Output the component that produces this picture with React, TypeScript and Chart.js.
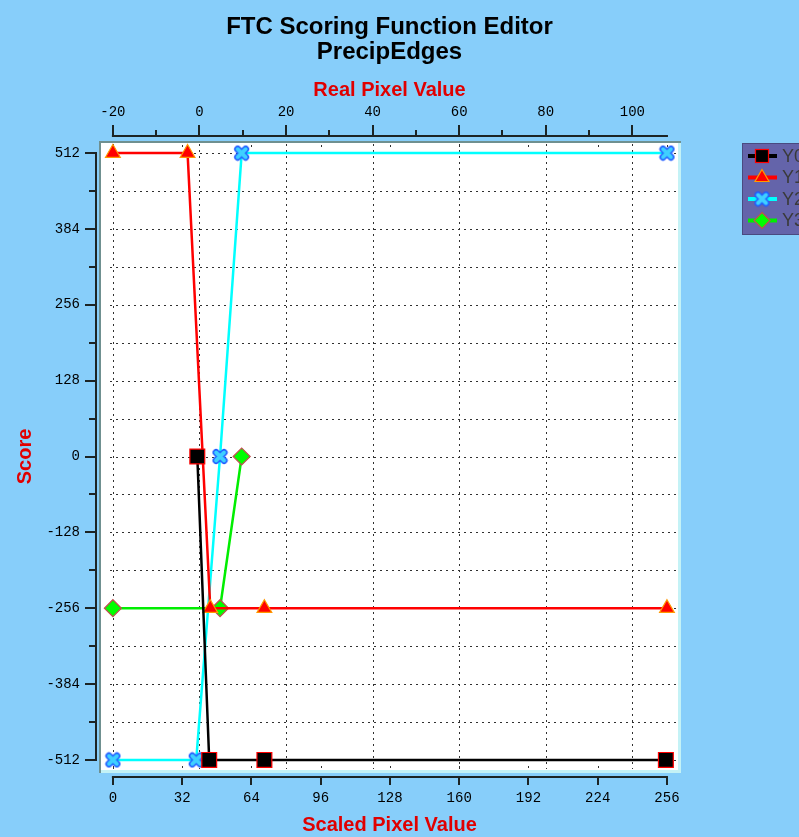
import React, { useEffect, useRef } from 'react';
import { Chart, registerables } from 'chart.js';

Chart.register(...registerables);

// ---------- data ----------
const TITLE_LINES = ['FTC Scoring Function Editor', 'PrecipEdges'];
const X_TITLE = 'Scaled Pixel Value';
const X2_TITLE = 'Real Pixel Value';
const Y_TITLE = 'Score';
const SERIES_NAMES = ['Y0', 'Y1', 'Y2', 'Y3'];

const Y0_X = [39, 44.5, 70, 255.5];
const Y0_Y = [0, -512, -512, -512];
const Y1_X = [0, 34.5, 45, 70, 256];
const Y1_Y = [512, 512, -256, -256, -256];
const Y2_X = [0, 38.5, 49.5, 59.5, 256];
const Y2_Y = [-512, -512, 0, 512, 512];
const Y3_X = [0, 49.5, 59.5];
const Y3_Y = [-256, -256, 0];

const X_TICKS = [0, 32, 64, 96, 128, 160, 192, 224, 256];
const X2_TICKS = [-20, 0, 20, 40, 60, 80, 100];
const X2_MINOR = [-10, 10, 30, 50, 70, 90];
const Y_TICKS = [-512, -384, -256, -128, 0, 128, 256, 384, 512];
const Y_MINOR = [-448, -320, -192, -64, 64, 192, 320, 448];

const X_MIN = -5.5;
const X_MAX = 261.1;
const Y_MIN = -529;
const Y_MAX = 529;
const toReal = (v: number) => v / 2 - 20;

// ---------- styles ----------
const BG = '#87cefa';
const TICK_FONT = { family: '"Liberation Mono", "DejaVu Sans Mono", monospace', size: 14 };
const AXIS_TITLE_FONT = { family: '"Liberation Sans", Arial, sans-serif', size: 20, weight: 'bold' as const };
const AXIS_RED = '#e00000';
const AXIS_COLOR = '#1c2424';

function makeXMarker(size = 17): HTMLCanvasElement {
  const c = document.createElement('canvas');
  c.width = size;
  c.height = size;
  const g = c.getContext('2d')!;
  const p = 4.5, q = size - 4.5;
  const path = () => {
    g.beginPath();
    g.moveTo(p, p); g.lineTo(q, q);
    g.moveTo(q, p); g.lineTo(p, q);
    g.stroke();
  };
  g.lineCap = 'round';
  g.strokeStyle = '#1f5bff';
  g.lineWidth = 7;
  path();
  g.strokeStyle = '#3fd0ff';
  g.lineWidth = 4;
  path();
  return c;
}

function drawLegendMarker(ctx: CanvasRenderingContext2D, i: number, x: number, y: number, xImg: HTMLCanvasElement) {
  ctx.save();
  ctx.setLineDash([]);
  if (i === 0) {
    ctx.fillStyle = '#000';
    ctx.strokeStyle = '#ff0000';
    ctx.lineWidth = 1.2;
    ctx.fillRect(x - 6.5, y - 6.5, 13, 13);
    ctx.strokeRect(x - 6.5, y - 6.5, 13, 13);
  } else if (i === 1) {
    ctx.fillStyle = '#ff0000';
    ctx.strokeStyle = '#ff9900';
    ctx.lineWidth = 1.2;
    ctx.beginPath();
    ctx.moveTo(x, y - 8);
    ctx.lineTo(x + 7, y + 4);
    ctx.lineTo(x - 7, y + 4);
    ctx.closePath();
    ctx.fill();
    ctx.stroke();
  } else if (i === 2) {
    ctx.drawImage(xImg, x - xImg.width / 2, y - xImg.height / 2);
  } else {
    ctx.fillStyle = '#00ff00';
    ctx.strokeStyle = '#c05050';
    ctx.lineWidth = 1.2;
    ctx.beginPath();
    ctx.moveTo(x, y - 8);
    ctx.lineTo(x + 8, y);
    ctx.lineTo(x, y + 8);
    ctx.lineTo(x - 8, y);
    ctx.closePath();
    ctx.fill();
    ctx.stroke();
  }
  ctx.restore();
}

const LINE_COLORS = ['#000000', '#ff0000', '#00ffff', '#00ee00'];

export default function App() {
  const ref = useRef<HTMLCanvasElement>(null);

  useEffect(() => {
    const xImg = makeXMarker();
    const pts = (xs: number[], ys: number[]) => xs.map((x, i) => ({ x, y: ys[i] }));

    const framePlugin = {
      id: 'frame',
      beforeDraw(chart: any) {
        const { ctx, chartArea: a } = chart;
        ctx.save();
        ctx.fillStyle = '#ffffff';
        ctx.fillRect(a.left, a.top, a.right - a.left, a.bottom - a.top);
        ctx.fillStyle = '#6f9090';
        ctx.fillRect(a.left - 2, a.top - 2, a.right - a.left + 5, 2);
        ctx.fillRect(a.left - 2, a.top - 2, 2, a.bottom - a.top + 5);
        ctx.fillStyle = '#c4f2f6';
        ctx.fillRect(a.left, a.bottom, a.right - a.left + 3, 3);
        ctx.fillRect(a.right, a.top, 3, a.bottom - a.top + 3);
        // chart title, centred over the plot frame
        ctx.fillStyle = '#000000';
        ctx.font = 'bold 24px "Liberation Sans", Arial, sans-serif';
        ctx.textAlign = 'center';
        ctx.textBaseline = 'middle';
        const cx = (a.left + a.right) / 2;
        TITLE_LINES.forEach((t, i) => ctx.fillText(t, cx, 27 + i * 25));
        ctx.restore();
      },
      beforeDatasetsDraw(chart: any) {
        const { ctx, chartArea: a, scales } = chart;
        const x2 = scales.x2, y = scales.y, x = scales.x;
        ctx.save();
        ctx.strokeStyle = '#303030';
        ctx.lineWidth = 1;
        ctx.setLineDash([2, 4]);
        for (const v of X2_TICKS) {
          const px = Math.round(x2.getPixelForValue(v)) + 0.5;
          ctx.beginPath();
          ctx.moveTo(px, a.top + 1);
          ctx.lineTo(px, a.bottom - 1);
          ctx.stroke();
        }
        for (const v of [...Y_TICKS, ...Y_MINOR]) {
          const py = Math.round(y.getPixelForValue(v)) + 0.5;
          ctx.beginPath();
          ctx.moveTo(a.left + 9, py);
          ctx.lineTo(a.right - 1, py);
          ctx.stroke();
        }
        ctx.setLineDash([]);
        ctx.fillStyle = '#303030';
        for (const v of X_TICKS) {
          const px = Math.round(x.getPixelForValue(v));
          ctx.fillRect(px, a.top + 2, 1, 2);
          ctx.fillRect(px, a.bottom - 4, 1, 2);
        }
        ctx.restore();
      },
      afterDraw(chart: any) {
        const { ctx, chartArea: a, scales } = chart;
        const x = scales.x, x2 = scales.x2, y = scales.y;
        ctx.save();
        ctx.strokeStyle = AXIS_COLOR;
        ctx.lineWidth = 2;
        ctx.setLineDash([]);
        // left axis
        const lx = a.left - 5;
        const yTop = y.getPixelForValue(512), yBot = y.getPixelForValue(-512);
        ctx.beginPath();
        ctx.moveTo(lx, yTop - 1);
        ctx.lineTo(lx, yBot + 1);
        for (const v of Y_TICKS) {
          const py = Math.round(y.getPixelForValue(v));
          ctx.moveTo(lx - 11, py);
          ctx.lineTo(lx, py);
        }
        for (const v of Y_MINOR) {
          const py = Math.round(y.getPixelForValue(v));
          ctx.moveTo(lx - 7, py);
          ctx.lineTo(lx, py);
        }
        ctx.stroke();
        // bottom axis
        const by = a.bottom + 7;
        const xL = x.getPixelForValue(0), xR = x.getPixelForValue(256);
        ctx.beginPath();
        ctx.moveTo(xL - 1, by);
        ctx.lineTo(xR + 1, by);
        for (const v of X_TICKS) {
          const px = Math.round(x.getPixelForValue(v));
          ctx.moveTo(px, by);
          ctx.lineTo(px, by + 8);
        }
        ctx.stroke();
        // top axis
        const ty = a.top - 7;
        ctx.beginPath();
        ctx.moveTo(xL - 1, ty);
        ctx.lineTo(xR + 1, ty);
        for (const v of X2_TICKS) {
          const px = Math.round(x2.getPixelForValue(v));
          ctx.moveTo(px, ty);
          ctx.lineTo(px, ty - 11);
        }
        for (const v of X2_MINOR) {
          const px = Math.round(x2.getPixelForValue(v));
          ctx.moveTo(px, ty);
          ctx.lineTo(px, ty - 6);
        }
        ctx.stroke();

        // legend
        const lgX = a.right + 64, lgY = a.top;
        ctx.fillStyle = '#6464aa';
        ctx.fillRect(lgX, lgY, 80, 92);
        ctx.strokeStyle = '#4a4a80';
        ctx.lineWidth = 1;
        ctx.strokeRect(lgX + 0.5, lgY + 0.5, 80, 91);
        ctx.font = '18px "Liberation Sans", Arial, sans-serif';
        ctx.textBaseline = 'middle';
        ctx.textAlign = 'left';
        chart.data.datasets.forEach((ds: any, i: number) => {
          const iy = lgY + 13 + i * 21.5;
          ctx.strokeStyle = LINE_COLORS[i];
          ctx.lineWidth = 4;
          ctx.beginPath();
          ctx.moveTo(lgX + 6, iy);
          ctx.lineTo(lgX + 35, iy);
          ctx.stroke();
          drawLegendMarker(ctx, i, lgX + 20, iy, xImg);
          ctx.fillStyle = '#3a3a3a';
          ctx.fillText(ds.label, lgX + 40, iy + 1);
        });
        ctx.restore();
      },
    };

    const common = { showLine: true, borderWidth: 2.5, xAxisID: 'x', yAxisID: 'y', pointHoverRadius: 0 };

    const chart = new Chart(ref.current!, {
      type: 'scatter',
      data: {
        datasets: [
          {
            ...common,
            label: SERIES_NAMES[0],
            data: pts(Y0_X, Y0_Y),
            borderColor: LINE_COLORS[0],
            pointStyle: 'rect',
            pointRadius: 10.5,
            pointBackgroundColor: '#000000',
            pointBorderColor: '#ff0000',
            pointBorderWidth: 1.2,
          },
          {
            ...common,
            label: SERIES_NAMES[1],
            data: pts(Y1_X, Y1_Y),
            borderColor: LINE_COLORS[1],
            pointStyle: 'triangle',
            pointRadius: 8.5,
            pointBackgroundColor: '#ff0000',
            pointBorderColor: '#ff9900',
            pointBorderWidth: 1.2,
          },
          {
            ...common,
            label: SERIES_NAMES[2],
            data: pts(Y2_X, Y2_Y),
            borderColor: LINE_COLORS[2],
            pointStyle: xImg,
            pointRadius: 8,
          },
          {
            ...common,
            label: SERIES_NAMES[3],
            data: pts(Y3_X, Y3_Y),
            borderColor: LINE_COLORS[3],
            pointStyle: 'rectRot',
            pointRadius: 8.5,
            pointBackgroundColor: '#00ff00',
            pointBorderColor: '#c05050',
            pointBorderWidth: 1.2,
          },
        ] as any,
      },
      options: {
        responsive: false,
        animation: false,
        events: [],
        layout: { padding: { left: 0, right: 121, top: 65, bottom: 0 } },
        plugins: {
          legend: { display: false },
          tooltip: { enabled: false },
          title: { display: false },
        },
        scales: {
          x: {
            type: 'linear',
            position: 'bottom',
            min: X_MIN,
            max: X_MAX,
            afterFit: (s: any) => { s.height = 67; },
            afterBuildTicks: (s: any) => { s.ticks = X_TICKS.map((v) => ({ value: v })); },
            grid: { display: false },
            border: { display: false },
            ticks: { autoSkip: false, maxRotation: 0, padding: 12, font: TICK_FONT, color: '#000', callback: (v: any) => String(v) },
            title: { display: true, text: X_TITLE, color: AXIS_RED, font: AXIS_TITLE_FONT, padding: { top: 0, bottom: 0 } },
          },
          x2: {
            type: 'linear',
            axis: 'x',
            position: 'top',
            min: toReal(X_MIN),
            max: toReal(X_MAX),
            afterFit: (s: any) => { s.height = 78; },
            afterBuildTicks: (s: any) => { s.ticks = X2_TICKS.map((v) => ({ value: v })); },
            grid: { display: false },
            border: { display: false },
            ticks: { autoSkip: false, maxRotation: 0, padding: 14, font: TICK_FONT, color: '#000', callback: (v: any) => String(v) },
            title: { display: true, text: X2_TITLE, color: AXIS_RED, font: AXIS_TITLE_FONT, padding: { top: 13, bottom: 0 } },
          } as any,
          y: {
            type: 'linear',
            position: 'left',
            min: Y_MIN,
            max: Y_MAX,
            afterFit: (s: any) => { s.width = 101; },
            afterBuildTicks: (s: any) => { s.ticks = Y_TICKS.map((v) => ({ value: v })); },
            grid: { display: false },
            border: { display: false },
            ticks: { autoSkip: false, padding: 13, font: TICK_FONT, color: '#000', callback: (v: any) => String(v) },
            title: { display: true, text: Y_TITLE, color: AXIS_RED, font: AXIS_TITLE_FONT, padding: { top: 13, bottom: 0 } },
          },
        },
      },
      plugins: [framePlugin],
    });

    return () => chart.destroy();
  }, []);

  return (
    <div style={{ position: 'fixed', left: 0, top: 0, width: 799, height: 837, background: BG, overflow: 'hidden' }}>
      <canvas ref={ref} width={799} height={837} style={{ display: 'block', width: 799, height: 837 }} />
    </div>
  );
}
